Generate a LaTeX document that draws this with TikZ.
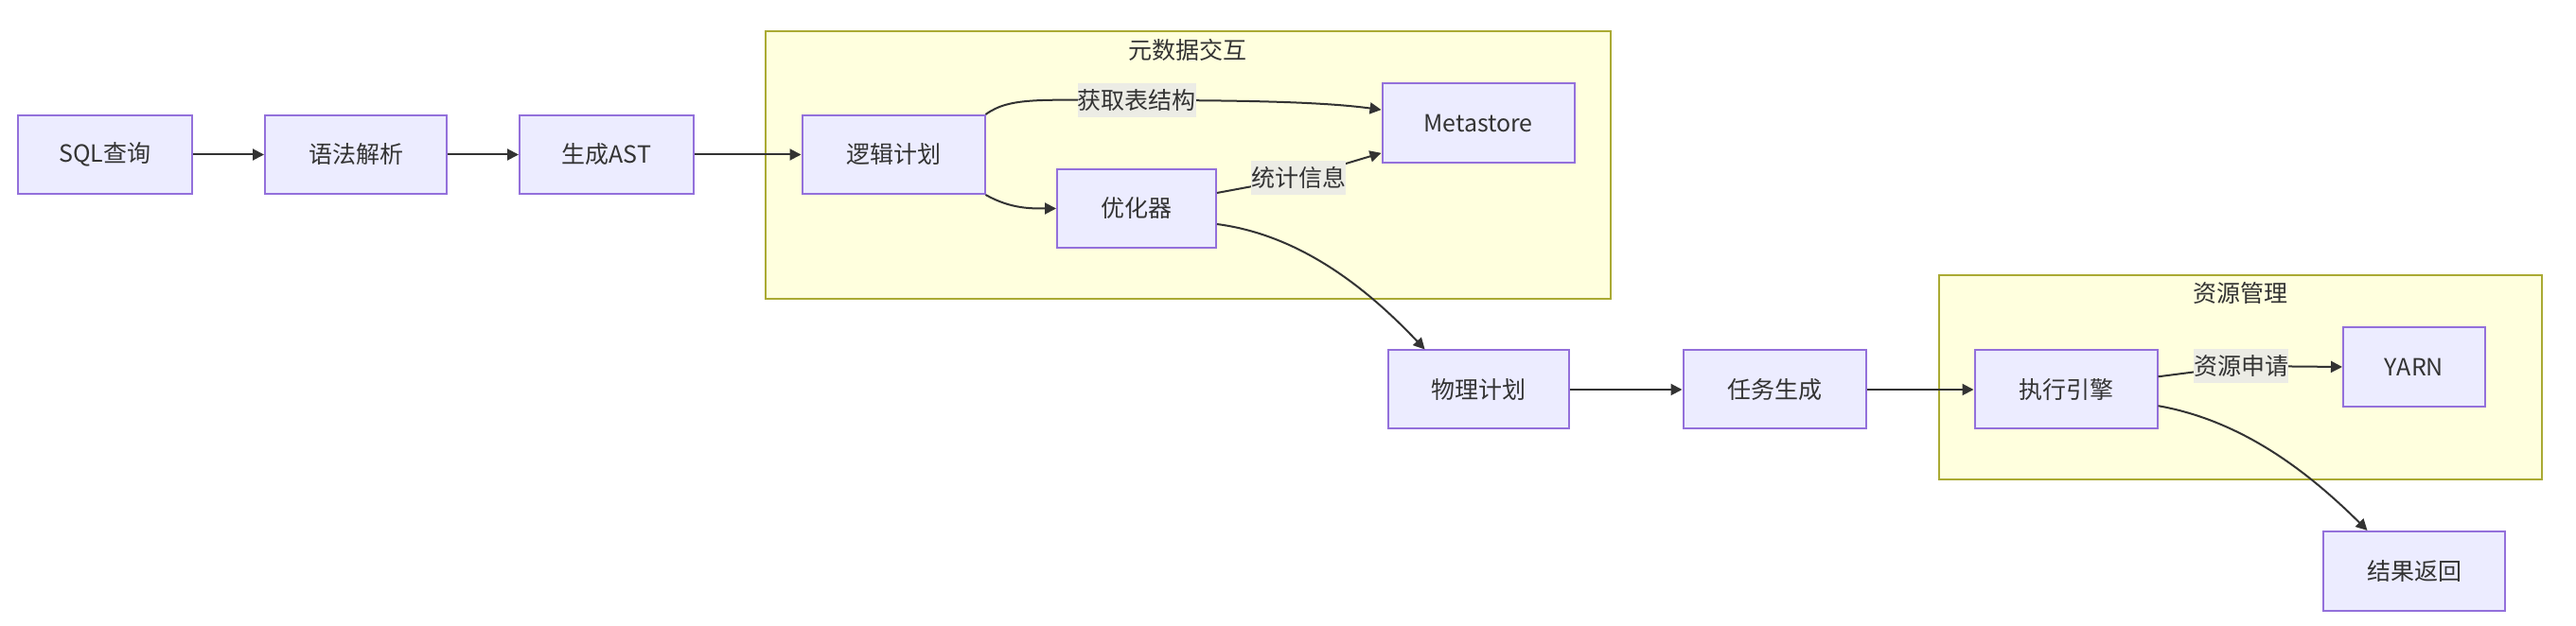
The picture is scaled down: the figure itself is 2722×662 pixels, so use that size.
\documentclass[tikz,border=0pt]{standalone}
\usepackage{fontspec}
\setmainfont{Noto Sans CJK SC}
\usepackage{xcolor}
\usepackage{tikz}
\usetikzlibrary{arrows.meta}

\definecolor{nodefill}{HTML}{ECECFF}
\definecolor{nodeline}{HTML}{9370DB}
\definecolor{clusterfill}{HTML}{FFFFDE}
\definecolor{clusterline}{HTML}{AAAA33}
\definecolor{labelbg}{RGB}{236,236,229}
\definecolor{textgray}{HTML}{333333}

\begin{document}
\begin{tikzpicture}[x=0.5pt, y=-0.5pt,
    box/.style={draw=nodeline, fill=nodefill, line width=1pt, minimum height=41.5pt,
      inner sep=0pt, text=textgray, font=\fontsize{12.5pt}{15pt}\selectfont},
    cluster/.style={draw=clusterline, fill=clusterfill, line width=1pt},
    grouptitle/.style={inner sep=0pt, text=textgray, font=\fontsize{12.5pt}{15pt}\selectfont},
    flow/.style={draw=textgray, line width=1pt, -{Triangle[length=6pt, width=6pt]}},
    edgelabel/.style={fill=labelbg, inner sep=0pt, minimum height=18pt, text=textgray,
      font=\fontsize{12.5pt}{15pt}\selectfont}
]
\useasboundingbox (0,0) rectangle (2722,662);
% groups
\draw[cluster] (809,33) rectangle (1702,316);
\node[grouptitle] (metatitle) at (1255,53) {元数据交互};
\draw[cluster] (2049,291) rectangle (2686,507);
\node[grouptitle] (restitle) at (2367,310) {资源管理};
% steps
\node[box, minimum width=92pt]   (sql)    at (111,163.5)  {SQL查询};
\node[box, minimum width=96pt]   (parse)  at (376,163.5)  {语法解析};
\node[box, minimum width=92pt]   (ast)    at (641,163.5)  {生成AST};
\node[box, minimum width=96.5pt] (logic)  at (944,163.5)  {逻辑计划};
\node[box, minimum width=84pt]   (opt)    at (1201,220.5) {优化器};
\node[box, minimum width=101.5pt, minimum height=42pt] (meta) at (1562,130.5) {Metastore};
\node[box, minimum width=95.5pt] (phys)   at (1562,412)   {物理计划};
\node[box, minimum width=96.5pt] (task)   at (1875,412)   {任务生成};
\node[box, minimum width=96.5pt] (exec)   at (2183,412)   {执行引擎};
\node[box, minimum width=75pt, minimum height=42pt]    (yarn)   at (2551,388) {YARN};
\node[box, minimum width=96pt, minimum height=42pt]    (result) at (2551,604) {结果返回};
% links
\draw[flow] (sql.east) -- (parse.west);
\draw[flow] (parse.east) -- (ast.west);
\draw[flow] (ast.east) -- (logic.west);
\draw[flow] (logic.north east) .. controls (1068,102) and (1100,106) .. (1201,106)
  node[edgelabel] {获取表结构} .. controls (1320,106) and (1400,108) .. (meta.172);
\draw[flow] (logic.south east) .. controls (1068,221) and (1090,220.5) .. (opt.west);
\draw[flow] (opt.11) -- (1372,188) node[edgelabel] {统计信息} -- (meta.197);
\draw[flow] (opt.349) .. controls (1370,248) and (1440,300) .. (phys.143);
\draw[flow] (phys.east) -- (task.west);
\draw[flow] (task.east) -- (exec.west);
\draw[flow] (exec.8) -- (2368,387) node[edgelabel] {资源申请} -- (yarn.west);
\draw[flow] (exec.350) .. controls (2370,445) and (2440,500) .. (result.139);
\end{tikzpicture}
\end{document}
